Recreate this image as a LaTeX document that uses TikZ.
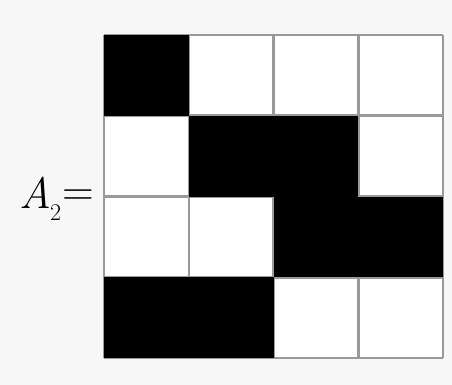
\documentclass[tikz,border=0pt]{standalone}
\begin{document}
\begin{tikzpicture}[x=1pt,y=-1pt,
  gridline/.style={draw=black!40,line width=2.5pt}]
\definecolor{bg}{HTML}{F7F7F7}
\fill[bg] (0,0) rectangle (452,385);
\useasboundingbox (0,0) rectangle (452,385);
\def\cw{84.75}\def\ch{80.75}
% white cells
\fill[white] (104,35) rectangle (443,358);
% grid lines
\foreach \i in {0,...,4}{
  \draw[gridline] ({104+\i*\cw},35) -- ({104+\i*\cw},358);
  \draw[gridline] (104,{35+\i*\ch}) -- (443,{35+\i*\ch});
}
% black cells (col,row)
\foreach \c/\r in {0/0, 1/1, 2/1, 2/2, 3/2, 0/3, 1/3}{
  \fill[black] ({104+\c*\cw},{35+\r*\ch}) rectangle ({104+(\c+1)*\cw},{35+(\r+1)*\ch});
}
\node[anchor=base east,inner sep=0pt,font=\fontsize{44}{48}\selectfont] (lbl) at (94,208)
  {\itshape A\kern-1pt\raisebox{-12pt}{\fontsize{24}{26}\selectfont\upshape 2}\kern1pt\raisebox{3pt}{\upshape =}};
\end{tikzpicture}
\end{document}
